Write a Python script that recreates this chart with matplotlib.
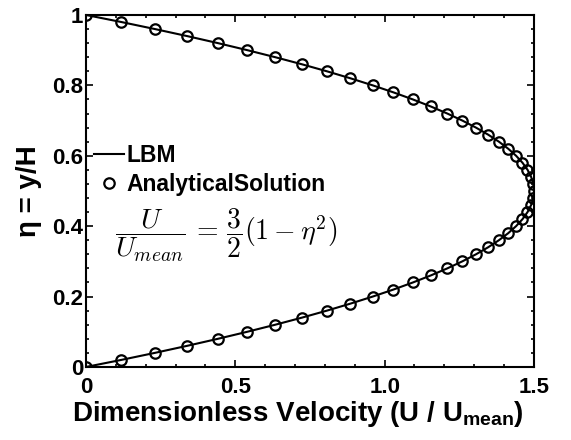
import matplotlib

matplotlib.use("Agg")
import matplotlib.pyplot as plt
from matplotlib.ticker import MultipleLocator

plt.rcParams["font.family"] = ["Liberation Sans", "DejaVu Sans"]
plt.rcParams["font.weight"] = "bold"
plt.rcParams["mathtext.fontset"] = "custom"
plt.rcParams["mathtext.rm"] = "Liberation Sans:bold"
plt.rcParams["mathtext.bf"] = "Liberation Sans:bold"
plt.rcParams["mathtext.it"] = "Liberation Sans:italic:bold"

# eta = y/H sample positions
eta = [
    0.00, 0.02, 0.04, 0.06, 0.08, 0.10, 0.12, 0.14, 0.16, 0.18,
    0.20, 0.22, 0.24, 0.26, 0.28, 0.30, 0.32, 0.34, 0.36, 0.38,
    0.40, 0.42, 0.44, 0.46, 0.48, 0.50, 0.52, 0.54, 0.56, 0.58,
    0.60, 0.62, 0.64, 0.66, 0.68, 0.70, 0.72, 0.74, 0.76, 0.78,
    0.80, 0.82, 0.84, 0.86, 0.88, 0.90, 0.92, 0.94, 0.96, 0.98,
    1.00,
]

# analytical velocity U/Umean at each eta
u_analytic = [
    0.0000, 0.1176, 0.2304, 0.3384, 0.4416, 0.5400, 0.6336, 0.7224, 0.8064, 0.8856,
    0.9600, 1.0296, 1.0944, 1.1544, 1.2096, 1.2600, 1.3056, 1.3464, 1.3824, 1.4136,
    1.4400, 1.4616, 1.4784, 1.4904, 1.4976, 1.5000, 1.4976, 1.4904, 1.4784, 1.4616,
    1.4400, 1.4136, 1.3824, 1.3464, 1.3056, 1.2600, 1.2096, 1.1544, 1.0944, 1.0296,
    0.9600, 0.8856, 0.8064, 0.7224, 0.6336, 0.5400, 0.4416, 0.3384, 0.2304, 0.1176,
    0.0000,
]

# LBM velocity profile
u_lbm = [
    0.0000, 0.1180, 0.2306, 0.3386, 0.4418, 0.5402, 0.6338, 0.7226, 0.8066, 0.8858,
    0.9602, 1.0298, 1.0946, 1.1546, 1.2098, 1.2602, 1.3058, 1.3466, 1.3826, 1.4138,
    1.4402, 1.4618, 1.4786, 1.4906, 1.4978, 1.5002, 1.4978, 1.4906, 1.4786, 1.4618,
    1.4402, 1.4138, 1.3826, 1.3466, 1.3058, 1.2602, 1.2098, 1.1546, 1.0946, 1.0298,
    0.9602, 0.8858, 0.8066, 0.7226, 0.6338, 0.5402, 0.4418, 0.3386, 0.2306, 0.1180,
    0.0000,
]

x_ticks = [0, 0.5, 1.0, 1.5]
x_tick_labels = ["0", "0.5", "1.0", "1.5"]
y_ticks = [0, 0.2, 0.4, 0.6, 0.8, 1.0]
y_tick_labels = ["0", "0.2", "0.4", "0.6", "0.8", "1"]

fig = plt.figure(figsize=(5.71, 4.40), dpi=100)
ax = fig.add_axes([0.1506, 0.166, 0.7845, 0.80])

ax.plot(u_lbm, eta, color="black", linewidth=1.5, label="LBM")
ax.plot(
    u_analytic,
    eta,
    linestyle="none",
    marker="o",
    markersize=7.5,
    markerfacecolor="none",
    markeredgecolor="black",
    markeredgewidth=1.6,
    label="AnalyticalSolution",
)

ax.set_xlim(0, 1.5)
ax.set_ylim(0, 1)
ax.set_xticks(x_ticks)
ax.set_xticklabels(x_tick_labels)
ax.set_yticks(y_ticks)
ax.set_yticklabels(y_tick_labels)
ax.xaxis.set_minor_locator(MultipleLocator(0.1))
ax.yaxis.set_minor_locator(MultipleLocator(0.04))
ax.tick_params(which="both", direction="in", top=True, right=True, labelsize=16, width=1.2)
ax.tick_params(which="major", length=5)
ax.tick_params(which="minor", length=2.5)
ax.tick_params(axis="x", which="major", pad=7)
ax.tick_params(axis="y", which="major", pad=2)
for spine in ax.spines.values():
    spine.set_linewidth(1.5)

ax.set_xlabel(r"Dimensionless Velocity (U / U$_{\mathbf{mean}}$)", fontsize=20, fontweight="bold")
ax.xaxis.set_label_coords(0.473, -0.092, transform=ax.transAxes)
ax.xaxis.label.set_va("top")
ax.set_ylabel(r"η = y/H", fontsize=20, fontweight="bold", labelpad=7)

ax.legend(
    loc="upper left",
    bbox_to_anchor=(0.018, 0.632),
    frameon=False,
    fontsize=16.5,
    handlelength=1.3,
    handletextpad=0.1,
    labelspacing=0.22,
    borderpad=0,
    borderaxespad=0,
)

ax.text(
    0.313,
    0.375,
    r"$\dfrac{U}{U_{mean}} \,=\, \dfrac{3}{2}(1-\eta^2)$",
    transform=ax.transAxes,
    ha="center",
    va="center",
    fontsize=20,
    math_fontfamily="cm",
    fontweight="normal",
)

fig.savefig("out.png", dpi=100)
